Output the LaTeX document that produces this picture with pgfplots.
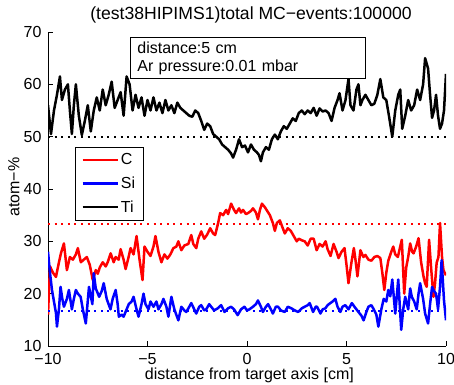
\documentclass[border=0pt]{standalone}
\usepackage{pgfplots}
\pgfplotsset{compat=1.18}
\usepackage{fontspec}
\setmainfont{Liberation Sans}
\newcommand{\ff}{\fontsize{16bp}{18.5bp}\selectfont}
\begin{document}
\begin{tikzpicture}
\begin{axis}[
  scale only axis, width=398bp, height=314bp,
  xmin=-10, xmax=10, ymin=10, ymax=70,
  axis lines*=left, axis line style={-, line width=0.8bp},
  tick align=inside, major tick length=5bp, tick style={line width=0.8bp, black},
  xtick={-10,-5,0,5,10}, xticklabels={−10,−5,0,5,10},
  ytick={10,20,30,40,50,60,70},
  /pgf/number format/assume math mode=true,
  tick label style={font=\ff, inner sep=1.5bp},
  xticklabel style={yshift=-5.8bp},
  yticklabel style={xshift=-4.8bp},
  xlabel={\ff distance from target axis [cm]},
  ylabel={\ff atom−\%},
  xlabel style={at={(axis description cs:0.506,-0.094)}, anchor=center, inner sep=0.5bp},
  ylabel style={at={(axis description cs:-0.0854,0.506)}, anchor=center},
  legend style={at={(0.068,0.634)}, anchor=north west, draw=black, line width=0.8bp,
    font=\ff, inner xsep=6bp, inner ysep=4.5bp,
    row sep=6.5bp, cells={anchor=west}},
  legend image code/.code={\draw[#1] (0bp,0bp) -- (35bp,0bp);},
  every axis plot/.append style={line width=2.5bp, line join=round},
]
\addplot[red] coordinates {
(-10,16) (-9.9,25.2) (-9.75,24) (-9.6,23.2) (-9.45,26) (-9.35,27.7) (-9.2,29.6) (-9.05,24.5) (-8.9,27) (-8.75,26.5) (-8.6,27.5) (-8.5,28.7) (-8.35,26) (-8.2,26.5) (-8.05,27) (-7.9,25.5) (-7.75,22.6) (-7.6,24.5) (-7.5,23.8) (-7.4,25) (-7.25,26) (-7.1,25.2) (-7.0,26) (-6.85,27.7) (-6.7,26) (-6.6,27) (-6.45,26.5) (-6.35,28.5) (-6.2,26.5) (-6.1,24.7) (-5.95,27) (-5.85,28.7) (-5.7,27.5) (-5.55,31) (-5.4,26.5) (-5.25,22.6) (-5.15,29) (-5.0,28) (-4.85,27.2) (-4.7,29) (-4.6,31) (-4.45,28) (-4.3,26) (-4.15,27.5) (-4.0,26.7) (-3.85,27.5) (-3.7,28.7) (-3.55,29) (-3.45,30) (-3.3,28.3) (-3.15,29.2) (-2.95,29.5) (-2.8,31.2) (-2.7,29.5) (-2.55,28.7) (-2.45,30.5) (-2.3,31.9) (-2.15,30.5) (-2.0,31.3) (-1.85,32.5) (-1.7,31.5) (-1.6,31.2) (-1.45,33.5) (-1.35,35.4) (-1.2,35) (-1.05,36) (-0.95,35.2) (-0.8,37.2) (-0.65,36) (-0.55,35.4) (-0.4,36.3) (-0.3,35.5) (-0.2,36) (-0.05,35.2) (0.05,35.4) (0.2,35.8) (0.3,36.3) (0.45,35.5) (0.55,34.2) (0.65,36) (0.75,37.2) (0.9,36.5) (1.05,35.6) (1.15,35) (1.3,33.5) (1.4,32) (1.5,33.5) (1.65,34) (1.8,32.5) (1.9,31.5) (2.05,32.5) (2.2,32) (2.35,31) (2.5,30) (2.6,30.5) (2.75,30.2) (2.9,30) (3.05,29.2) (3.2,30.5) (3.35,30.5) (3.5,28.3) (3.65,29.5) (3.8,29) (3.95,30) (4.05,28.5) (4.2,27.2) (4.35,29.5) (4.5,28) (4.6,26.8) (4.75,28) (4.9,28.7) (5.0,25.5) (5.1,22) (5.25,26) (5.37,28.7) (5.45,26.5) (5.55,23.3) (5.7,28.3) (5.85,27) (5.95,27.4) (6.1,26.5) (6.25,26.3) (6.4,27) (6.55,27.2) (6.7,26.8) (6.8,24) (6.9,20.7) (7.0,24) (7.1,26.3) (7.25,28) (7.35,29) (7.45,27.5) (7.58,27) (7.7,29) (7.78,30.3) (7.9,20) (8.0,25) (8.1,27) (8.2,29.6) (8.3,28) (8.37,27.7) (8.5,29) (8.62,30.6) (8.75,26) (8.87,23.3) (8.95,22) (9.03,21.3) (9.15,30.3) (9.25,25) (9.37,19.4) (9.45,22) (9.53,25.9) (9.62,27) (9.7,33.5) (9.8,27) (9.87,24.5) (10,23.5)
};
\addlegendentry{C}
\addplot[blue] coordinates {
(-10,28) (-9.9,24) (-9.8,20.7) (-9.7,18.5) (-9.6,16.3) (-9.55,13.7) (-9.45,17) (-9.37,21.3) (-9.28,19) (-9.2,17.5) (-9.05,19) (-8.95,20.7) (-8.8,17) (-8.7,19) (-8.6,20.7) (-8.5,20) (-8.36,19.4) (-8.25,17) (-8.1,14.3) (-7.94,21.3) (-7.85,19.5) (-7.77,18) (-7.7,23.9) (-7.6,21) (-7.43,19.4) (-7.3,20.5) (-7.2,22) (-7.05,19) (-6.86,17) (-6.75,19) (-6.6,20.7) (-6.5,18) (-6.44,15.6) (-6.3,16) (-6.2,15.6) (-6.05,17) (-5.94,18) (-5.8,18.5) (-5.7,19.4) (-5.55,17) (-5.45,15.6) (-5.3,18) (-5.2,20) (-5.1,18) (-4.95,17) (-4.85,18.5) (-4.7,17.5) (-4.55,18.5) (-4.45,17) (-4.3,18) (-4.2,19) (-4.05,17.5) (-3.95,15.6) (-3.8,19.4) (-3.65,17) (-3.45,14.9) (-3.3,17.5) (-3.15,16.8) (-3.05,16.5) (-2.9,17.5) (-2.8,18.2) (-2.65,17) (-2.55,16.2) (-2.4,17.5) (-2.3,17.8) (-2.15,16.8) (-2.05,17) (-1.9,18) (-1.8,17.5) (-1.65,16.8) (-1.47,17.2) (-1.3,17.8) (-1.13,16.5) (-0.95,17.2) (-0.8,17.5) (-0.65,17) (-0.47,15.9) (-0.3,17) (-0.13,17.5) (0.0,16.8) (0.12,17) (0.3,17.5) (0.45,18) (0.55,18.7) (0.7,17.5) (0.8,16.5) (0.95,17.5) (1.06,18) (1.2,17) (1.3,16.2) (1.45,17.5) (1.56,17.5) (1.7,16.8) (1.9,16.5) (2.05,17.5) (2.23,17.2) (2.4,16.8) (2.57,16.5) (2.75,17.2) (2.9,17.5) (3.05,17.8) (3.15,18.2) (3.32,16.5) (3.45,17.5) (3.52,17.5) (3.69,16.2) (3.8,17) (3.94,17.2) (4.05,17.8) (4.19,18.2) (4.3,18.5) (4.44,19) (4.55,17.5) (4.69,16.5) (4.8,17.5) (4.94,17.8) (5.1,17) (5.27,18.2) (5.4,17.5) (5.6,16.5) (5.75,15.8) (5.86,14.9) (6.0,16.5) (6.1,17.5) (6.25,17.8) (6.37,17) (6.5,16) (6.6,13.7) (6.75,17) (6.87,19) (7.0,18.5) (7.1,20.7) (7.2,19.5) (7.3,22.7) (7.45,16.2) (7.6,22.7) (7.75,13.1) (7.85,17) (7.95,19.4) (8.1,17) (8.2,21) (8.28,19.4) (8.4,18.5) (8.53,17) (8.62,20) (8.7,22) (8.85,19) (8.95,16.2) (9.1,14.3) (9.2,18) (9.3,21.3) (9.4,20.5) (9.5,20) (9.6,17) (9.7,21.3) (9.78,26.4) (9.9,18.7) (10,14.9)
};
\addlegendentry{Si}
\addplot[black] coordinates {
(-10,56) (-9.85,50.5) (-9.7,55) (-9.55,58) (-9.4,61.5) (-9.3,57) (-9.15,59) (-9.0,60) (-8.9,55) (-8.8,50.5) (-8.7,56) (-8.6,60) (-8.45,54) (-8.3,50.3) (-8.15,53) (-8.0,56) (-7.85,51) (-7.7,55) (-7.55,57.5) (-7.4,55) (-7.25,59) (-7.1,56) (-6.95,58) (-6.8,60.5) (-6.65,55.5) (-6.5,57) (-6.35,58.5) (-6.2,54) (-6.05,61.5) (-5.9,60) (-5.75,55) (-5.6,58) (-5.45,55.5) (-5.3,57.5) (-5.15,54) (-5.0,57) (-4.85,55) (-4.7,57.5) (-4.55,55) (-4.4,56.5) (-4.25,54.5) (-4.1,57) (-3.95,55) (-3.8,56) (-3.65,54.5) (-3.5,56.5) (-3.35,55.5) (-3.2,55) (-3.05,54.5) (-2.9,54) (-2.75,53.8) (-2.6,55) (-2.45,54.5) (-2.3,53) (-2.15,51.3) (-2.0,52.5) (-1.85,52) (-1.7,50.5) (-1.55,50) (-1.4,49.5) (-1.25,48.5) (-1.1,48) (-0.95,47.5) (-0.8,46.8) (-0.7,46) (-0.55,47.5) (-0.4,49.5) (-0.25,48) (-0.1,48.3) (0.05,47) (0.2,48.5) (0.35,47.5) (0.5,47) (0.6,46.5) (0.7,45.3) (0.8,47) (0.95,48) (1.1,47.5) (1.25,49.5) (1.4,50.4) (1.55,49.5) (1.7,51) (1.85,52) (2.0,51.5) (2.15,52.5) (2.3,53.5) (2.45,53) (2.6,54.5) (2.75,55) (2.9,54.3) (3.05,55) (3.2,54.5) (3.35,55.5) (3.5,54) (3.65,55.4) (3.8,54.8) (3.95,55) (4.1,54.5) (4.25,53) (4.4,55.5) (4.55,57) (4.65,58.3) (4.8,55) (4.95,57) (5.1,61) (5.2,56) (5.35,55) (5.5,59) (5.6,60) (5.7,56) (5.8,57) (5.95,58) (6.1,57) (6.25,56) (6.4,56.3) (6.55,58) (6.7,61) (6.85,57.5) (7.0,57) (7.15,53.6) (7.3,50) (7.45,55) (7.6,58) (7.7,59) (7.8,51.5) (7.95,54) (8.1,57) (8.25,55) (8.4,56) (8.55,59) (8.7,57) (8.85,60) (8.95,65) (9.1,63) (9.2,58) (9.3,53.6) (9.4,55) (9.5,58) (9.6,54) (9.7,51.5) (9.8,52.5) (9.9,55) (10,62)
};
\addlegendentry{Ti}
\addplot[red, forget plot, line width=2bp, dash pattern=on 2bp off 4.6bp] coordinates {(-10,33.333) (10,33.333)};
\addplot[blue, forget plot, line width=2bp, dash pattern=on 2bp off 4.6bp] coordinates {(-10,16.667) (10,16.667)};
\addplot[black, forget plot, line width=2bp, dash pattern=on 2bp off 4.6bp] coordinates {(-10,50) (10,50)};
\node[draw=black, fill=white, line width=0.8bp, anchor=north west, text width=221bp,
  inner xsep=7bp, inner ysep=4bp, align=left, font=\ff]
  at (rel axis cs:0.206,0.984) {distance:5 cm\\Ar pressure:0.01 mbar};
\end{axis}
\node[anchor=base, font=\fontsize{17.6bp}{20bp}\selectfont, inner sep=0pt] at ([xshift=4bp, yshift=12bp]current axis.north)
  {(test38HIPIMS1)total MC−events:100000};
\pgfresetboundingbox
\path (current axis.south west) ++(-48bp,-39bp) coordinate (bbA);
\path (current axis.north east) ++(8bp,32bp) coordinate (bbB);
\useasboundingbox (bbA) rectangle (bbB);
\end{tikzpicture}
\end{document}
